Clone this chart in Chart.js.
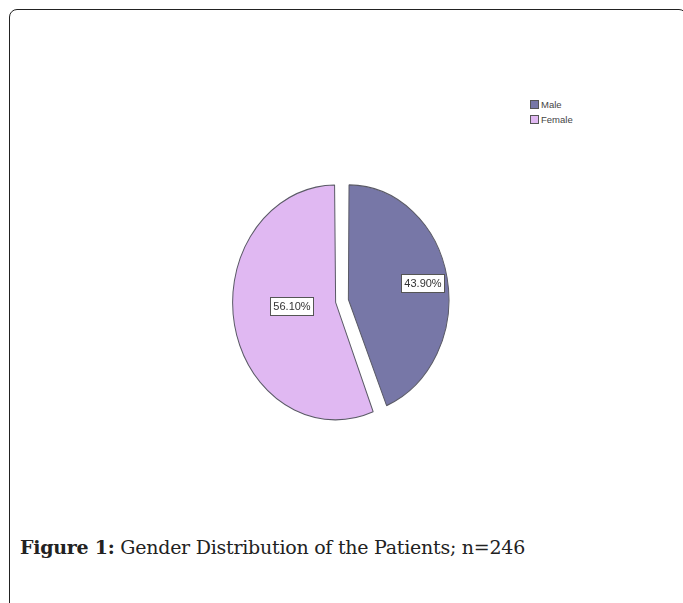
<!DOCTYPE html>
<html>
<head>
<meta charset="utf-8">
<script src="https://cdn.jsdelivr.net/npm/chart.js@4.4.1/dist/chart.umd.min.js"></script>
<style>
  html, body { margin:0; padding:0; background:#fff; width:683px; height:603px; overflow:hidden; }
  .frame { position:absolute; left:9px; top:9px; width:678px; height:640px; border:1.3px solid #222; border-radius:8px; box-sizing:border-box; }
  .pie-wrap { position:absolute; left:232px; top:174px; width:220px; height:254px; }
  .legend { position:absolute; left:530px; top:97px; font:9.5px "Liberation Sans", Arial, sans-serif; color:#444; }
  .legend div { height:15px; line-height:8px; display:flex; align-items:center; }
  .legend span.sw { display:inline-block; width:7px; height:7px; border:1px solid #555; margin-right:2px; }
  .caption { position:absolute; left:20px; top:536px; font:19px "DejaVu Serif", "Liberation Serif", serif; color:#222; letter-spacing:-0.25px; }
  .caption b { font-weight:bold; }
</style>
</head>
<body>
<div class="frame"></div>
<div class="legend" id="legend"></div>
<div class="pie-wrap"><canvas id="pie"></canvas></div>
<div class="caption"><b>Figure 1:</b> Gender Distribution of the Patients; n=246</div>

<script>
// Daten
var categories = ["Male", "Female"];
var percents = [43.9, 56.1];
var pctLabels = ["43.90%", "56.10%"];

// Stil
var sliceColors = ["#7777a7", "#e0b8f2"];
var SY = 1.14;              // Ellipse (SPSS-Torte ist leicht hochkant)
var labelDist = [0.78, 0.47];

// Legende (HTML)
var lg = document.getElementById("legend");
categories.forEach(function(c, i){
  var d = document.createElement("div");
  d.innerHTML = '<span class="sw" style="background:' + sliceColors[i] + '"></span>' + c;
  lg.appendChild(d);
});

var ellipsePlugin = {
  id: "ellipse",
  beforeDatasetsDraw: function(chart){
    var a = chart.getDatasetMeta(0).data[0];
    var ctx = chart.ctx;
    ctx.save();
    ctx.translate(a.x, a.y); ctx.scale(1, SY); ctx.translate(-a.x, -a.y);
  },
  afterDatasetsDraw: function(chart){
    var ctx = chart.ctx;
    ctx.restore();
    // Prozent-Labels in weißen Kästchen
    var arcs = chart.getDatasetMeta(0).data;
    ctx.save();
    ctx.font = '11px "Liberation Sans", Arial, sans-serif';
    ctx.textAlign = "center"; ctx.textBaseline = "middle";
    arcs.forEach(function(arc, i){
      var mid = (arc.startAngle + arc.endAngle) / 2;
      var off = (arc.options.offset || 0) / 4;
      var d = arc.outerRadius * labelDist[i];
      var x = arc.x + Math.cos(mid) * (d + off);
      var y = arc.y + Math.sin(mid) * (d + off) * SY - (i === 1 ? 6 : 0);
      var w = Math.round(ctx.measureText(pctLabels[i]).width + 6), hh = 18;
      var bx = Math.round(x - w/2), by = Math.round(y - hh/2);
      ctx.fillStyle = "#fff";
      ctx.fillRect(bx, by, w, hh);
      ctx.strokeStyle = "#555"; ctx.lineWidth = 1;
      ctx.strokeRect(bx + 0.5, by + 0.5, w, hh);
      ctx.fillStyle = "#333";
      ctx.fillText(pctLabels[i], bx + w/2 + 0.5, by + hh/2 + 1);
    });
    ctx.restore();
  }
};

new Chart(document.getElementById("pie"), {
  type: "pie",
  data: {
    labels: categories,
    datasets: [{
      data: percents,
      backgroundColor: sliceColors,
      borderColor: "#5a5a66",
      borderWidth: 1,
      offset: 26,
      clip: false
    }]
  },
  options: {
    responsive: true,
    maintainAspectRatio: false,
    animation: false,
    layout: { padding: 0 },
    plugins: { legend: { display: false }, tooltip: { enabled: false } }
  },
  plugins: [ellipsePlugin]
});
</script>
</body>
</html>
